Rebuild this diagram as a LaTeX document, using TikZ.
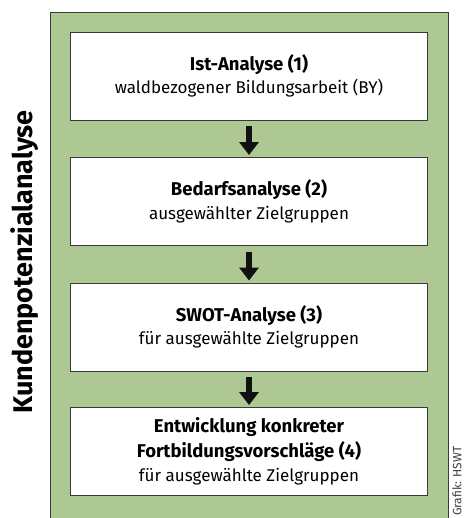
\documentclass[tikz,border=0pt]{standalone}
\usepackage{fontspec}
\setmainfont{Fira Sans}
\usetikzlibrary{arrows.meta}
\definecolor{panelgreen}{HTML}{ADC893}
\definecolor{edgegray}{HTML}{3A3A3A}
\definecolor{arrowblack}{HTML}{111111}
\newcommand{\hd}[1]{{\fontsize{18.5}{23.5}\selectfont\bfseries #1}}
\tikzset{
  stepbox/.style={draw=edgegray, line width=0.9pt, fill=white, minimum width=357pt, minimum height=88pt, align=center, inner sep=0pt, font=\fontsize{17}{23.5}\selectfont},
  flowarrow/.style={draw=arrowblack, line width=6pt, -{Triangle[width=19pt,length=13pt]}, shorten <=6pt, shorten >=2pt},
}
\begin{document}
\begin{tikzpicture}[x=1pt,y=-1pt]
\useasboundingbox (0,0) rectangle (464,518);
\fill[panelgreen, draw=edgegray, line width=0.9pt] (50,12) rectangle (448,530);
\node[stepbox] (b1) at (249,76) {\hd{Ist-Analyse (1)}\\waldbezogener Bildungsarbeit (BY)};
\node[stepbox] (b2) at (249,201.5) {\hd{Bedarfsanalyse (2)}\\ausgewählter Zielgruppen};
\node[stepbox] (b3) at (249,327) {\hd{SWOT-Analyse (3)}\\für ausgewählte Zielgruppen};
\node[stepbox, font=\fontsize{17}{24.5}\selectfont] (b4) at (249,451.5) {\hd{Entwicklung konkreter}\\\hd{Fortbildungsvorschläge (4)}\\für ausgewählte Zielgruppen};
\draw[flowarrow] (b1.south) -- (b2.north);
\draw[flowarrow] (b2.south) -- (b3.north);
\draw[flowarrow] (b3.south) -- (b4.north);
\node[rotate=90, font=\fontsize{27}{32}\selectfont\bfseries] (side) at (25,262) {Kundenpotenzialanalyse};
\node[rotate=90, font=\fontsize{12}{14}\selectfont, text=black!75, anchor=west, inner sep=0pt] (credit) at (457,516) {Grafik: HSWT};
\end{tikzpicture}
\end{document}
